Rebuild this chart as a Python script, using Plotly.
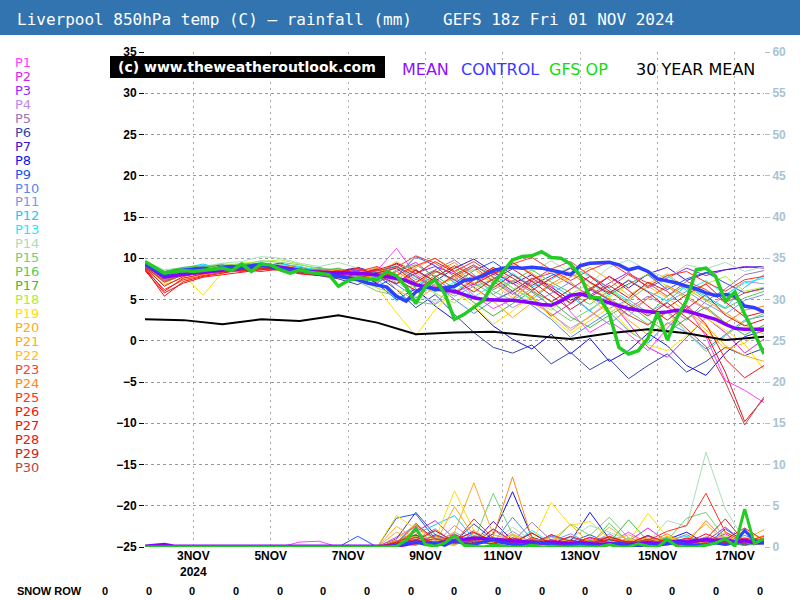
import plotly.graph_objects as go
import pandas as pd

# ---------------- DATA ----------------
START = "2024-11-01 18:00"

# 30 perturbation members, 850hPa temperature (C), 12-hourly from START
P1_T = [9.0, 7.5, 8.2, 8.6, 8.8, 9.0, 9.4, 9.1, 8.6, 8.3, 8.0, 7.4, 8.5, 11.2, 8.0, 6.5, 7.8, 5.5, 3.9, 5.0, 7.2, 6.8, 3.5, 1.0, 2.4, 0.8, -1.2, 1.5, 4.2, 0.5, -4.8, -6.0, -7.5]
P2_T = [9.2, 8.0, 8.6, 8.3, 8.9, 9.2, 9.0, 9.3, 8.8, 8.5, 8.1, 7.9, 7.0, 8.4, 9.5, 7.6, 5.8, 6.9, 8.4, 7.0, 5.2, 3.0, 4.5, 6.2, 5.0, 2.1, -0.8, -2.0, 0.4, 2.8, 1.0, -1.5, 0.2]
P3_T = [9.4, 8.3, 8.8, 8.5, 9.1, 8.8, 9.3, 9.0, 8.7, 8.6, 8.2, 8.6, 7.8, 6.9, 8.2, 9.0, 8.1, 6.5, 4.8, 6.0, 7.5, 8.2, 6.9, 5.5, 7.0, 8.3, 6.4, 7.6, 8.8, 7.9, 8.6, 9.0, 8.8]
P4_T = [9.0, 7.8, 8.4, 8.0, 8.6, 9.0, 8.7, 9.2, 9.0, 8.4, 8.7, 8.0, 8.9, 7.5, 6.0, 4.5, 6.8, 7.9, 5.6, 4.0, 5.3, 3.2, 1.5, 2.9, 4.6, 3.0, 5.2, 6.5, 5.1, 3.8, 5.5, 7.2, 6.9]
P5_T = [8.8, 7.2, 8.0, 8.5, 8.2, 8.8, 9.1, 8.9, 8.5, 8.9, 8.3, 7.8, 8.3, 9.0, 7.4, 8.6, 9.8, 8.0, 6.2, 7.3, 5.9, 4.2, 5.8, 3.6, 2.0, 3.9, 5.4, 4.1, 2.5, 4.8, 6.3, 8.0, 8.5]
P6_T = [9.1, 7.9, 8.3, 8.7, 8.4, 9.1, 8.9, 8.6, 8.2, 7.9, 7.5, 6.8, 7.9, 6.2, 4.0, 5.6, 3.2, 1.0, -0.8, -1.5, -0.5, -2.8, -1.4, -3.5, -2.2, -4.6, -3.0, -1.6, -3.8, -2.5, -0.8, -1.8, -0.9]
P7_T = [9.3, 8.1, 8.6, 8.9, 9.2, 8.7, 9.0, 9.4, 8.8, 8.1, 8.4, 8.9, 8.2, 9.4, 8.5, 7.2, 8.8, 9.9, 8.3, 6.9, 8.0, 6.5, 4.9, 6.1, 7.8, 6.4, 8.1, 8.9, 7.3, 8.2, 8.6, 8.9, 9.0]
P8_T = [9.0, 7.6, 8.1, 8.4, 8.8, 9.1, 9.2, 8.7, 8.4, 8.0, 7.8, 8.5, 6.9, 5.0, 6.3, 4.2, 2.5, 4.1, 1.8, 0.2, -1.0, 0.8, -1.6, 0.3, -2.5, -1.2, 0.9, -0.6, -3.0, -4.2, -1.5, 0.5, 1.2]
P9_T = [9.2, 8.2, 8.7, 8.6, 9.0, 9.3, 9.0, 8.8, 8.9, 8.3, 7.9, 7.3, 6.6, 7.8, 10.2, 9.1, 7.0, 8.5, 9.6, 8.0, 6.7, 7.9, 8.8, 7.1, 5.6, 6.9, 8.0, 6.2, 7.5, 8.3, 7.0, 5.8, 6.4]
P10_T = [8.9, 7.4, 8.0, 8.3, 8.6, 8.9, 9.2, 9.0, 8.5, 8.2, 8.5, 7.6, 8.0, 6.8, 5.2, 6.9, 5.0, 3.3, 4.9, 6.0, 4.3, 2.6, 0.4, 1.9, 3.5, 1.2, -0.3, 2.2, 1.0, -1.0, 0.8, 2.5, 3.0]
P11_T = [9.1, 8.0, 8.5, 8.8, 8.5, 9.0, 9.3, 9.1, 8.7, 8.4, 8.0, 7.7, 8.6, 7.0, 8.7, 6.6, 5.4, 6.6, 7.4, 5.8, 4.4, 5.7, 7.1, 5.3, 3.9, 5.0, 3.4, 4.7, 6.0, 4.5, 3.2, 4.9, 5.6]
P12_T = [9.3, 8.4, 8.8, 9.3, 8.7, 9.0, 9.5, 8.9, 8.6, 8.8, 8.1, 8.4, 7.6, 4.8, 6.6, 8.4, 7.3, 9.0, 8.1, 6.4, 5.0, 6.8, 5.4, 3.6, 5.7, 7.4, 6.0, 4.8, 6.7, 5.3, 4.0, 6.5, 8.0]
P13_T = [9.0, 7.9, 8.3, 8.5, 9.0, 8.8, 9.1, 9.3, 9.0, 8.5, 8.2, 7.9, 8.4, 9.1, 7.7, 5.9, 7.1, 5.3, 6.8, 8.2, 6.5, 7.4, 9.0, 7.8, 6.3, 4.9, 6.6, 7.9, 6.1, 7.3, 5.6, 7.0, 7.6]
P14_T = [9.6, 8.6, 8.9, 9.0, 9.4, 9.6, 10.2, 10.0, 9.4, 9.0, 9.5, 8.8, 8.0, 7.2, 5.4, 4.8, 6.5, 8.6, 7.3, 6.1, 8.3, 9.7, 8.2, 7.0, 8.9, 9.8, 8.5, 7.6, 9.2, 8.7, 9.5, 8.4, 9.0]
P15_T = [9.5, 8.3, 8.5, 8.9, 9.3, 9.2, 9.7, 9.5, 9.2, 8.8, 8.6, 7.2, 6.0, 5.5, 4.7, 4.4, 5.9, 7.6, 6.0, 4.9, 6.3, 4.0, 2.4, 3.8, 5.2, 3.6, 2.0, 3.4, 1.1, -1.3, 0.6, 2.3, 3.3]
P16_T = [9.2, 8.1, 8.6, 8.4, 8.8, 9.4, 9.1, 8.6, 8.3, 8.7, 8.0, 8.3, 7.1, 8.6, 9.2, 7.8, 8.9, 7.0, 5.6, 7.2, 8.6, 7.1, 5.8, 4.4, 6.1, 4.7, 3.2, 5.4, 6.8, 5.0, 3.9, 5.2, 6.0]
P17_T = [9.4, 8.4, 8.9, 9.1, 8.9, 9.2, 9.4, 9.0, 8.8, 8.4, 8.8, 8.1, 8.7, 7.7, 6.5, 7.9, 6.3, 4.6, 3.0, 4.5, 6.0, 4.8, 2.9, 1.6, 3.1, 4.4, 2.6, 1.0, 2.7, 4.1, 2.2, 0.7, 1.9]
P18_T = [9.3, 8.2, 8.7, 8.6, 9.1, 9.4, 9.6, 9.8, 9.3, 8.6, 8.3, 7.5, 6.4, 5.6, 6.9, 5.7, 4.6, 6.2, 7.7, 6.4, 5.1, 3.7, 5.6, 7.0, 5.3, 6.8, 8.1, 6.6, 5.1, 6.9, 7.8, 6.0, 6.5]
P19_T = [9.0, 7.0, 8.0, 5.5, 8.3, 8.7, 8.9, 9.2, 8.8, 8.3, 8.6, 7.8, 6.5, 3.4, 0.6, 3.8, 6.1, 4.2, 2.0, 3.6, 5.5, 2.8, 0.9, 2.4, 4.0, 1.4, -0.5, -1.2, 0.6, 2.7, 1.3, -0.4, -3.5]
P20_T = [9.2, 8.0, 8.4, 8.8, 8.6, 9.0, 9.3, 9.1, 8.7, 8.2, 7.9, 8.2, 8.8, 7.4, 8.9, 10.0, 8.6, 6.9, 8.0, 9.4, 8.2, 6.6, 7.7, 8.9, 7.4, 5.5, 6.9, 8.1, 6.3, 4.9, 3.4, 1.9, 0.8]
P21_T = [8.7, 6.8, 7.6, 8.0, 8.4, 8.7, 8.9, 8.6, 8.3, 8.0, 7.7, 8.3, 8.6, 6.2, 4.9, 6.5, 8.0, 6.4, 4.8, 2.8, 4.6, 3.3, 1.2, 3.0, 4.8, 2.5, 0.7, 2.0, 3.7, 1.8, -0.6, -1.8, -2.5]
P22_T = [9.1, 7.7, 8.2, 8.5, 8.9, 9.1, 8.8, 9.0, 8.6, 8.4, 8.0, 7.3, 8.1, 9.6, 8.3, 6.7, 7.5, 8.7, 6.9, 5.2, 6.9, 8.5, 7.0, 5.1, 3.3, 5.0, 6.6, 5.2, 3.5, 1.3, -1.0, -0.3, 1.6]
P23_T = [8.9, 7.3, 7.9, 8.2, 8.6, 8.8, 8.6, 8.9, 8.5, 8.6, 8.3, 8.7, 7.9, 8.9, 10.3, 9.4, 7.8, 9.0, 7.2, 5.6, 7.3, 8.7, 9.6, 7.9, 6.4, 8.1, 7.0, 5.4, 7.2, 6.2, 4.6, 5.8, 6.3]
P24_T = [9.0, 7.5, 8.1, 8.4, 8.7, 8.5, 9.0, 8.7, 8.4, 8.1, 8.6, 8.0, 7.6, 8.4, 7.0, 8.3, 9.5, 7.6, 8.8, 7.1, 5.3, 6.9, 8.2, 6.5, 5.0, 3.6, 5.1, 6.7, 5.4, 3.9, 2.1, 3.7, 4.2]
P25_T = [8.6, 6.2, 7.4, 7.9, 8.3, 8.5, 8.8, 8.5, 8.2, 8.5, 7.9, 8.4, 9.0, 7.9, 9.1, 10.0, 8.4, 9.6, 8.0, 9.3, 10.1, 8.6, 7.3, 8.6, 9.5, 8.0, 6.6, 7.9, 8.4, 7.1, 6.0, 7.4, 7.8]
P26_T = [8.8, 6.0, 7.6, 8.1, 8.5, 8.8, 9.0, 8.8, 8.4, 8.2, 8.5, 8.1, 8.6, 9.3, 8.1, 9.6, 8.3, 6.8, 8.1, 9.5, 8.0, 6.2, 4.5, 6.3, 7.8, 6.1, 4.2, 2.5, 4.3, 2.0, -2.2, -4.5, -3.0]
P27_T = [8.7, 5.4, 7.2, 7.8, 8.2, 8.6, 8.4, 8.7, 8.1, 7.9, 8.3, 8.8, 8.0, 6.9, 8.6, 7.2, 5.7, 7.4, 8.9, 7.6, 6.1, 7.6, 8.8, 7.1, 5.8, 7.3, 5.9, 4.0, 5.6, 6.9, 4.7, 2.9, 3.5]
P28_T = [8.5, 5.8, 7.0, 7.7, 8.0, 8.3, 8.6, 8.9, 8.5, 8.0, 7.6, 8.1, 8.7, 7.5, 6.1, 7.7, 9.1, 7.8, 6.4, 8.0, 6.5, 4.7, 6.2, 7.8, 6.0, 4.4, 3.0, 4.6, 2.8, 0.9, -3.8, -9.8, -7.0]
P29_T = [8.9, 6.6, 7.8, 8.3, 8.7, 8.4, 8.8, 8.6, 8.3, 8.5, 8.0, 7.6, 8.2, 8.8, 7.1, 8.5, 7.4, 5.9, 7.5, 8.7, 7.2, 5.5, 3.8, 5.3, 6.7, 5.2, 7.1, 6.0, 3.9, 5.6, 3.1, 1.8, 2.6]
P30_T = [9.0, 7.1, 8.0, 8.2, 8.5, 8.9, 9.2, 8.7, 8.3, 8.1, 8.4, 7.9, 8.5, 9.0, 7.8, 6.3, 8.0, 9.2, 7.7, 6.0, 7.6, 6.1, 4.6, 6.4, 4.9, 3.1, 1.9, 3.6, 1.5, -0.7, -5.0, -10.2, -6.8]

# 30 perturbation members, rainfall (mm), 12-hourly from START
P1_R = [0, 0, 0, 0, 0, 0, 0, 0, 0.6, 0.7, 0, 0, 0, 1.2, 2.5, 0.8, 1.6, 0.4, 1.0, 0.3, 0, 0.6, 0.2, 0, 0.5, 1.8, 0.4, 0.2, 0.9, 0.5, 1.2, 0.6, 0.3]
P2_R = [0, 0, 0, 0, 0, 0, 0, 0, 0, 0, 0, 0, 0, 0.5, 1.8, 3.2, 1.0, 0.3, 0.8, 1.4, 0.2, 0, 0.4, 1.1, 0.3, 0.7, 2.3, 0.6, 0.2, 0.5, 1.6, 0.3, 0.8]
P3_R = [0, 0.3, 0, 0, 0, 0, 0, 0, 0, 0, 0, 0, 0, 0.8, 0.3, 1.5, 0.6, 2.0, 0.4, 0.9, 0.2, 1.3, 0.5, 0.1, 0.6, 0.3, 1.0, 0.4, 0.2, 0.7, 2.4, 0.5, 0.9]
P4_R = [0, 0, 0, 0, 0, 0, 0, 0, 0, 0, 0, 0, 0, 0.2, 1.1, 0.4, 2.6, 0.8, 0.3, 1.9, 0.5, 0.2, 0.9, 0.4, 1.6, 0.3, 0.6, 1.2, 0.4, 0.8, 0.3, 1.0, 0.5]
P5_R = [0, 0, 0, 0, 0, 0, 0, 0, 0, 0, 0, 0, 0, 0.4, 0.9, 2.2, 0.5, 1.3, 0.2, 0.6, 3.0, 0.8, 0.3, 0.5, 0.2, 1.1, 0.4, 0.7, 1.5, 0.3, 0.6, 0.9, 0.4]
P6_R = [0, 0.2, 0, 0, 0, 0, 0, 0, 0, 0, 0, 0, 0, 1.0, 4.2, 1.5, 0.6, 2.8, 0.9, 0.4, 1.7, 0.3, 0.8, 0.2, 1.3, 0.5, 0.3, 0.9, 0.4, 1.2, 0.6, 0.3, 0.7]
P7_R = [0, 0, 0, 0, 0, 0, 0, 0, 0, 0, 0, 0, 0, 0.3, 0.7, 0.4, 1.2, 0.5, 3.1, 0.8, 0.3, 1.5, 0.6, 0.2, 0.9, 0.4, 1.4, 0.3, 0.6, 0.2, 0.8, 0.5, 0.3]
P8_R = [0, 0, 0, 0, 0, 0, 0, 0, 0, 0, 0, 0, 0, 0.6, 1.4, 0.5, 0.9, 0.3, 1.6, 6.7, 1.2, 0.4, 0.7, 4.2, 1.0, 0.3, 0.5, 0.9, 1.8, 0.4, 0.6, 0.2, 0.8]
P9_R = [0, 0, 0, 0, 0, 0, 0, 0, 0, 0, 0, 1.3, 0, 3.5, 4.0, 1.0, 0.4, 0.8, 0.3, 1.1, 0.5, 0.2, 0.6, 1.5, 0.4, 0.3, 0.7, 1.0, 0.4, 0.2, 2.2, 0.6, 0.4]
P10_R = [0, 0, 0, 0, 0, 0, 0, 0, 0, 0, 0, 0, 0, 0.5, 2.9, 0.8, 0.3, 1.7, 0.5, 3.6, 0.9, 0.4, 1.2, 0.3, 0.7, 0.2, 1.3, 0.4, 0.8, 0.3, 0.5, 1.4, 0.6]
P11_R = [0, 0, 0, 0, 0, 0, 0, 0, 0, 0, 0, 0, 0, 0.2, 0.8, 1.3, 0.4, 0.9, 2.1, 0.5, 0.3, 0.7, 1.6, 0.4, 0.2, 0.8, 0.3, 1.1, 0.5, 0.9, 0.4, 0.6, 0.3]
P12_R = [0, 0, 0, 0, 0, 0, 0, 0, 0, 0, 0, 0, 0, 0.4, 1.6, 2.7, 3.8, 1.0, 0.5, 0.9, 0.3, 1.4, 0.6, 0.2, 0.8, 0.5, 0.3, 1.2, 0.4, 0.7, 0.2, 0.5, 0.9]
P13_R = [0, 0, 0, 0, 0, 0, 0, 0, 0, 0, 0, 0, 0, 0.3, 0.6, 1.9, 0.7, 0.4, 1.1, 0.3, 2.0, 0.5, 0.2, 0.9, 0.4, 0.6, 0.3, 0.8, 1.3, 0.5, 0.2, 0.7, 0.4]
P14_R = [0, 0, 0, 0, 0, 0, 0, 0, 0, 0, 0, 0, 0, 0.2, 0.5, 0.9, 0.4, 1.3, 0.6, 2.4, 0.8, 0.3, 1.0, 2.6, 1.8, 0.9, 0.5, 3.2, 2.5, 11.5, 4.6, 0.8, 0.5]
P15_R = [0, 0, 0, 0, 0, 0, 0, 0, 0, 0, 0, 0, 0, 0.5, 1.2, 0.4, 1.8, 0.7, 6.5, 1.5, 0.6, 0.3, 2.8, 1.4, 3.6, 1.1, 0.5, 0.8, 3.5, 4.2, 1.0, 0.4, 0.6]
P16_R = [0, 0, 0, 0, 0, 0, 0, 0, 0, 0, 0, 0, 0, 0.3, 0.9, 0.5, 0.2, 1.4, 0.7, 0.4, 1.0, 0.3, 0.8, 0.2, 2.9, 0.6, 0.4, 1.2, 0.5, 0.9, 0.3, 0.6, 1.1]
P17_R = [0, 0, 0, 0, 0, 0, 0, 0, 0, 0, 0, 0, 0, 0.4, 0.2, 1.1, 0.5, 0.3, 0.9, 0.4, 0.2, 0.6, 0.3, 0.8, 0.5, 3.3, 0.7, 0.4, 1.0, 0.3, 0.6, 0.2, 0.5]
P18_R = [0, 0, 0, 0, 0, 0, 0, 0, 0, 0, 0, 0, 0, 0.6, 1.3, 0.5, 0.8, 0.3, 1.2, 0.5, 0.9, 0.4, 0.2, 0.7, 0.3, 1.0, 0.5, 0.8, 0.3, 0.6, 1.4, 0.4, 0.7]
P19_R = [0, 0, 0, 0, 0, 0, 0, 0, 0, 0, 0, 0, 0, 3.8, 2.2, 0.9, 6.8, 2.0, 0.7, 1.4, 0.5, 5.4, 2.6, 3.1, 1.0, 0.6, 4.1, 1.2, 0.5, 0.9, 0.4, 2.0, 0.8]
P20_R = [0, 0, 0, 0, 0, 0, 0, 0, 0, 0, 0, 0, 0, 2.5, 1.0, 0.6, 1.8, 7.8, 1.5, 0.8, 0.4, 1.2, 0.6, 0.3, 2.4, 0.7, 1.1, 0.5, 0.9, 2.8, 0.6, 0.4, 1.0]
P21_R = [0, 0, 0, 0, 0, 0, 0, 0, 0, 0, 0, 0, 0, 1.8, 0.7, 0.4, 4.9, 1.3, 0.5, 0.9, 0.3, 0.7, 0.4, 0.2, 0.6, 1.5, 0.4, 0.8, 0.3, 1.2, 0.5, 0.9, 2.1]
P22_R = [0, 0, 0, 0, 0, 0, 0, 0, 0, 0, 0, 0, 0, 0.9, 2.8, 0.6, 0.3, 1.0, 0.4, 1.6, 0.5, 0.8, 2.7, 0.4, 0.3, 0.9, 0.5, 1.3, 0.6, 0.4, 1.8, 0.7, 0.5]
P23_R = [0, 0, 0, 0, 0, 0, 0, 0, 0, 0, 0, 0, 0, 0.5, 0.3, 1.4, 0.6, 0.4, 0.8, 0.3, 1.1, 0.5, 0.2, 0.6, 1.3, 0.4, 0.7, 0.3, 1.0, 0.5, 0.3, 0.8, 0.4]
P24_R = [0, 0, 0, 0, 0, 0, 0, 0, 0, 0, 0, 0, 0, 0.7, 1.9, 0.5, 1.1, 0.4, 1.3, 8.5, 1.0, 0.6, 0.3, 0.9, 0.4, 0.7, 0.5, 1.6, 0.4, 3.2, 0.8, 0.5, 1.4]
P25_R = [0, 0, 0, 0, 0, 0, 0, 0, 0, 0, 0, 0, 0, 0.4, 2.7, 1.0, 0.5, 3.4, 1.1, 0.6, 0.3, 1.5, 0.7, 0.4, 1.0, 0.5, 0.8, 1.9, 2.6, 6.5, 1.8, 0.6, 1.3]
P26_R = [0, 0, 0, 0, 0, 0, 0, 0, 0, 0, 0, 0, 0, 0.6, 1.5, 0.4, 0.8, 0.3, 2.2, 0.7, 0.4, 0.9, 0.3, 1.2, 0.5, 0.3, 0.7, 0.4, 1.1, 0.6, 0.9, 2.3, 0.8]
P27_R = [0, 0, 0, 0, 0, 0, 0, 0, 0, 0, 0, 0, 0, 0.3, 0.8, 2.0, 0.6, 0.4, 1.0, 0.5, 1.7, 0.4, 0.6, 0.3, 0.9, 0.4, 1.4, 0.5, 0.3, 0.8, 0.5, 1.1, 0.6]
P28_R = [0, 0, 0, 0, 0, 0, 0, 0, 0, 0, 0, 0, 0, 0.4, 1.2, 0.5, 0.9, 1.8, 0.6, 0.3, 0.8, 0.4, 1.3, 0.5, 0.3, 0.7, 0.4, 0.9, 0.5, 1.6, 0.6, 0.4, 1.0]
P29_R = [0, 0, 0, 0, 0, 0, 0, 0, 0, 0, 0, 0, 0, 0.5, 0.9, 0.3, 1.5, 0.6, 0.4, 1.1, 0.5, 0.3, 0.8, 0.4, 1.2, 0.6, 0.3, 0.7, 0.4, 1.0, 3.4, 0.6, 0.5]
P30_R = [0, 0, 0, 0, 0, 0, 0, 0, 0, 0, 0, 0, 0, 0.2, 0.6, 1.0, 0.4, 0.8, 0.3, 0.5, 0.9, 0.4, 0.2, 0.7, 0.3, 0.5, 0.9, 0.4, 0.6, 0.3, 0.8, 0.5, 0.4]

# Ensemble mean, control and GFS operational, 6-hourly from START
MEAN_T = [9.3, 8.5, 7.7, 7.9, 8.1, 8.2, 8.3, 8.4, 8.5, 8.6,
          8.8, 8.9, 9.1, 9.1, 8.9, 8.7, 8.6, 8.4, 8.3, 8.2,
          8.2, 8.2, 8.2, 8.1, 8.0, 7.8, 7.6, 7.3, 6.8, 6.5,
          6.3, 6.1, 6.0, 5.6, 5.2, 5.0, 4.9, 4.9, 4.9, 4.8,
          4.6, 4.4, 4.3, 4.8, 5.5, 5.7, 5.4, 5.0, 4.6, 4.2,
          3.9, 3.7, 3.5, 3.4, 3.5, 3.7, 3.6, 3.3, 3.0, 2.6,
          2.0, 1.5, 1.4, 1.4, 1.4]
CTRL_T = [9.3, 8.6, 8.0, 8.4, 8.6, 8.7, 8.8, 8.6, 8.9, 9.0,
          8.8, 9.1, 9.2, 9.0, 8.8, 8.5, 8.6, 8.3, 8.2, 8.0,
          7.9, 7.7, 7.4, 7.0, 6.8, 6.5, 5.4, 4.8, 5.9, 6.6,
          6.2, 6.4, 6.6, 7.3, 7.5, 7.9, 8.5, 8.8, 8.9, 8.8,
          8.9, 8.8, 8.6, 8.3, 8.0, 9.1, 9.4, 9.5, 9.5, 9.2,
          8.6, 8.9, 8.4, 7.5, 7.3, 7.0, 6.6, 6.3, 5.8, 5.5,
          5.6, 5.4, 4.2, 4.0, 3.5]
OP_T = [9.6, 8.9, 8.2, 8.4, 8.5, 8.4, 8.5, 8.6, 8.8, 8.5,
        9.3, 8.4, 9.3, 9.2, 8.6, 8.2, 8.6, 8.3, 8.1, 8.0,
        6.6, 7.3, 7.6, 7.5, 7.4, 8.4, 7.9, 6.5, 4.5, 6.6,
        7.4, 5.7, 2.6, 3.2, 4.0, 4.9, 6.9, 8.4, 9.8, 10.2,
        10.3, 10.8, 10.1, 10.0, 9.3, 7.9, 5.3, 5.2, 3.3, -0.8,
        -1.6, -1.2, 0.3, 3.4, 0.1, 2.8, 4.9, 8.6, 8.8, 7.8,
        4.8, 5.9, 3.2, 0.9, -1.6]

MEAN_R = [0.1, 0.2, 0.3, 0.1, 0.1, 0.1, 0, 0, 0, 0,
          0, 0, 0, 0, 0, 0, 0, 0, 0, 0,
          0, 0, 0, 0, 0, 0, 0.1, 0.3, 0.6, 0.5,
          0.4, 0.6, 0.7, 0.9, 1.1, 1.0, 0.9, 0.8, 0.7, 0.6,
          0.6, 0.5, 0.6, 0.5, 0.4, 0.5, 0.4, 0.3, 0.4, 0.3,
          0.3, 0.4, 0.5, 0.4, 0.6, 0.7, 0.6, 0.8, 0.9, 0.8,
          0.9, 0.6, 0.8, 0.5, 0.6]
CTRL_R = [0, 0, 0, 0, 0, 0, 0, 0, 0, 0,
          0, 0, 0, 0, 0, 0, 0, 0, 0, 0,
          0, 0, 0, 0, 0, 0, 0.2, 0.4, 0.6, 0.3,
          0.5, 0.2, 0.8, 0.4, 0.3, 0.6, 0.9, 0.5, 0.3, 0.2,
          0.4, 0.6, 0.3, 0.1, 0.2, 0.4, 0.2, 0.1, 0.3, 0.5,
          0.2, 0.1, 0.3, 0.2, 0.4, 0.6, 0.3, 0.2, 0.3, 0.5,
          0.3, 0.6, 2.0, 0.8, 0.5]
OP_R = [0, 0, 0, 0, 0, 0, 0, 0, 0, 0,
        0, 0, 0, 0, 0, 0, 0, 0, 0, 0,
        0, 0, 0, 0, 0, 0, 0.1, 0.8, 2.3, 0.3,
        0.1, 0.5, 1.4, 0.2, 0.1, 0, 0.2, 0.1, 0, 0,
        0.2, 0, 0.1, 0, 0, 0.1, 0, 0, 0.3, 0,
        0, 0.4, 0.1, 0, 0.9, 0.1, 0, 0, 0.2, 0.5,
        1.0, 0.1, 4.6, 0.4, 1.0]

# 30 year mean 850hPa temperature, daily from START
CLIM_T = [2.6, 2.5, 2.0, 2.6, 2.4, 3.1, 2.2, 0.8, 1.0, 1.1, 0.6, 0.2, 0.9, 1.4, 0.9, 0.1, 0.5]

MEMBER_NAMES = ["P%d" % i for i in range(1, 31)]
MEMBER_COLORS = ["#ff3dff", "#dd22ee", "#9922ff", "#bb88ee", "#9977bb", "#3344aa",
                 "#4411cc", "#1111ee", "#2255ee", "#5588ee", "#7799ee", "#11ccff",
                 "#11eeff", "#aaddbb", "#77cc77", "#55cc55", "#44bb33", "#aaee33",
                 "#ffe000", "#ffaa22", "#ffaa11", "#ffbb22", "#ee4444", "#ff8811",
                 "#ff3322", "#ff1111", "#ee1111", "#ee1122", "#cc2222", "#bb4444"]
MEMBER_TEMPS = [P1_T, P2_T, P3_T, P4_T, P5_T, P6_T, P7_T, P8_T, P9_T, P10_T,
                P11_T, P12_T, P13_T, P14_T, P15_T, P16_T, P17_T, P18_T, P19_T, P20_T,
                P21_T, P22_T, P23_T, P24_T, P25_T, P26_T, P27_T, P28_T, P29_T, P30_T]
MEMBER_RAIN = [P1_R, P2_R, P3_R, P4_R, P5_R, P6_R, P7_R, P8_R, P9_R, P10_R,
               P11_R, P12_R, P13_R, P14_R, P15_R, P16_R, P17_R, P18_R, P19_R, P20_R,
               P21_R, P22_R, P23_R, P24_R, P25_R, P26_R, P27_R, P28_R, P29_R, P30_R]

X_TICKS = ["2024-11-03", "2024-11-05", "2024-11-07", "2024-11-09",
           "2024-11-11", "2024-11-13", "2024-11-15", "2024-11-17"]
X_LABELS = ["3NOV<br>2024", "5NOV", "7NOV", "9NOV", "11NOV", "13NOV", "15NOV", "17NOV"]
Y_TICKS = [-25, -20, -15, -10, -5, 0, 5, 10, 15, 20, 25, 30, 35]
Y2_TICKS = [0, 5, 10, 15, 20, 25, 30, 35, 40, 45, 50, 55, 60]
SNOW_ROW = [0, 0, 0, 0, 0, 0, 0, 0, 0, 0, 0, 0, 0, 0, 0, 0]

TITLE_1 = "Liverpool 850hPa temp (C) – rainfall (mm)"
TITLE_2 = "GEFS 18z Fri 01 NOV 2024"

# ---------------- LAYOUT HELPERS ----------------
W, H = 800, 600
ML, MR, MT, MB = 145, 36, 52, 53
PW = W - ML - MR
PH = H - MT - MB


def px(x):
    return (x - ML) / PW


def py(y):
    return 1 - (y - MT) / PH


t6 = pd.date_range(START, periods=len(MEAN_T), freq="6h")
t12 = pd.date_range(START, periods=len(P1_T), freq="12h")
t24 = pd.date_range(START, periods=len(CLIM_T), freq="24h")

fig = go.Figure()

for col, temp in zip(MEMBER_COLORS, MEMBER_TEMPS):
    fig.add_trace(go.Scatter(x=t12, y=temp, mode="lines",
                             line=dict(color=col, width=1), hoverinfo="skip"))
for col, rain in zip(MEMBER_COLORS, MEMBER_RAIN):
    fig.add_trace(go.Scatter(x=t12, y=rain, mode="lines", yaxis="y2",
                             line=dict(color=col, width=1), hoverinfo="skip"))

fig.add_trace(go.Scatter(x=t24, y=CLIM_T, mode="lines",
                         line=dict(color="black", width=2), hoverinfo="skip"))
fig.add_trace(go.Scatter(x=t6, y=MEAN_T, mode="lines",
                         line=dict(color="#8800ff", width=3.5), hoverinfo="skip"))
fig.add_trace(go.Scatter(x=t6, y=CTRL_T, mode="lines",
                         line=dict(color="#2f3fff", width=3.5), hoverinfo="skip"))
fig.add_trace(go.Scatter(x=t6, y=OP_T, mode="lines",
                         line=dict(color="#22cc22", width=3.5), hoverinfo="skip"))
fig.add_trace(go.Scatter(x=t6, y=MEAN_R, mode="lines", yaxis="y2",
                         line=dict(color="#8800ff", width=3.5), hoverinfo="skip"))
fig.add_trace(go.Scatter(x=t6, y=CTRL_R, mode="lines", yaxis="y2",
                         line=dict(color="#2f3fff", width=3), hoverinfo="skip"))
fig.add_trace(go.Scatter(x=t6, y=OP_R, mode="lines", yaxis="y2",
                         line=dict(color="#22cc22", width=3), hoverinfo="skip"))

shapes = [
    dict(type="rect", xref="paper", yref="paper", x0=px(0), x1=px(W), y0=py(35), y1=py(0),
         fillcolor="#3274b0", line=dict(width=0), layer="above"),
    dict(type="rect", xref="paper", yref="paper", x0=px(110), x1=px(385), y0=py(78), y1=py(56),
         fillcolor="black", line=dict(width=0), layer="above"),
]

ann = []
ann.append(dict(text=TITLE_1, x=px(15), y=py(19), xanchor="left", yanchor="middle",
                font=dict(family="DejaVu Sans Mono", size=16, color="white")))
ann.append(dict(text=TITLE_2, x=px(441), y=py(19), xanchor="left", yanchor="middle",
                font=dict(family="DejaVu Sans Mono", size=16, color="white")))
ann.append(dict(text="<b>(c) www.theweatheroutlook.com</b>", x=px(247), y=py(67),
                xanchor="center", yanchor="middle",
                font=dict(family="DejaVu Sans", size=14, color="white")))
for txt, x0, c in [("MEAN", 400, "#9010ff"), ("CONTROL", 459, "#3a3aff"),
                   ("GFS OP", 547, "#11dd11"), ("30 YEAR MEAN", 634, "black")]:
    ann.append(dict(text=txt, x=px(x0), y=py(69), xanchor="left", yanchor="middle",
                    font=dict(family="DejaVu Sans", size=16, color=c)))
for i, (name, col) in enumerate(zip(MEMBER_NAMES, MEMBER_COLORS)):
    ann.append(dict(text=name, x=px(13), y=py(62.5 + i * 13.95), xanchor="left",
                    yanchor="middle", font=dict(family="DejaVu Sans", size=13, color=col)))
ann.append(dict(text="<b>SNOW ROW</b>", x=px(15), y=py(591), xanchor="left", yanchor="middle",
                font=dict(family="Liberation Sans", size=11, color="black")))
for i, v in enumerate(SNOW_ROW):
    ann.append(dict(text="<b>%d</b>" % v, x=px(105 + i * 43.65), y=py(591), xanchor="center",
                    yanchor="middle", font=dict(family="Liberation Sans", size=11, color="black")))
for a in ann:
    a.update(xref="paper", yref="paper", showarrow=False)

fig.update_layout(
    width=W, height=H, autosize=False,
    margin=dict(l=ML, r=MR, t=MT, b=MB, pad=0),
    paper_bgcolor="white", plot_bgcolor="white",
    showlegend=False, hovermode=False,
    shapes=shapes, annotations=ann,
    xaxis=dict(type="date", range=[t6[0], t6[-1]], tickvals=X_TICKS, ticktext=X_LABELS,
               showgrid=True, gridcolor="#aaaaaa", gridwidth=1, griddash="2px,4px",
               ticks="", showline=False, zeroline=False,
               tickfont=dict(family="Liberation Sans", size=12, color="black", weight="bold")),
    yaxis=dict(range=[-25, 35], tickvals=Y_TICKS, showgrid=True, gridcolor="#999999",
               gridwidth=1, griddash="3px,3px", zeroline=False, showline=False,
               ticks="outside", ticklen=5, tickcolor="black",
               tickfont=dict(family="Liberation Sans", size=12, color="black", weight="bold")),
    yaxis2=dict(range=[0, 60], tickvals=Y2_TICKS, overlaying="y", side="right",
                showgrid=False, zeroline=False, showline=False,
                ticks="outside", ticklen=5, tickcolor="#a8c4cf",
                tickfont=dict(family="Liberation Sans", size=12, color="#a8c4cf", weight="bold")),
)

fig.write_html("out.html", config={"displayModeBar": False},
               post_script="document.body.style.margin='0';document.body.style.padding='0';"
                           "document.body.style.overflow='hidden';")
